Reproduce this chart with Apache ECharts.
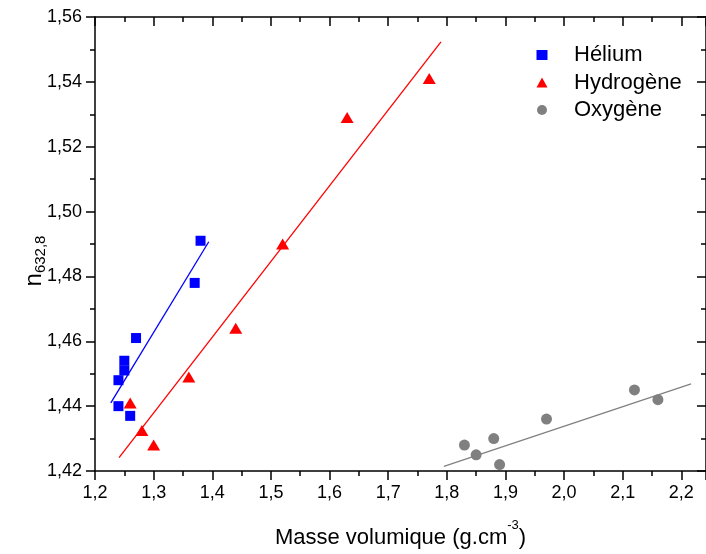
<!DOCTYPE html>
<html><head><meta charset="utf-8">
<script src="https://cdn.jsdelivr.net/npm/echarts@6/dist/echarts.min.js"></script>
<style>html,body{margin:0;padding:0;background:#fff}#c{width:706px;height:554px}</style>
</head><body><div id="c"></div>
<script>
// ---- data ----
const seriesNames = ['Hélium', 'Hydrogène', 'Oxygène'];
const heliumX = [1.24, 1.24, 1.25, 1.25, 1.26, 1.27, 1.37, 1.38];
const heliumY = [1.440, 1.448, 1.451, 1.454, 1.437, 1.461, 1.478, 1.491];
const hydrogenX = [1.26, 1.28, 1.30, 1.36, 1.44, 1.52, 1.63, 1.77];
const hydrogenY = [1.441, 1.4325, 1.428, 1.449, 1.464, 1.490, 1.529, 1.541];
const oxygenX = [1.83, 1.85, 1.88, 1.89, 1.97, 2.12, 2.16];
const oxygenY = [1.428, 1.425, 1.430, 1.422, 1.436, 1.445, 1.442];
// linear fit segments (end points)
const heliumFitX = [1.227, 1.394];
const heliumFitY = [1.441, 1.4907];
const hydrogenFitX = [1.241, 1.790];
const hydrogenFitY = [1.4241, 1.5523];
const oxygenFitX = [1.795, 2.2165];
const oxygenFitY = [1.4214, 1.4469];
// axes
const xMin = 1.2, xMax = 2.242, xStep = 0.1;
const yMin = 1.42, yMax = 1.56, yStep = 0.02;

const FONT = 'Arial, "Liberation Sans", sans-serif';
const zip = (a, b) => a.map((v, i) => [v, b[i]]);
const fmtX = v => v.toFixed(1).replace('.', ',');
const fmtY = v => v.toFixed(2).replace('.', ',');

const axisLineStyle = { color: '#000', width: 1.5 };

const chart = echarts.init(document.getElementById('c'), null, { renderer: 'canvas' });
chart.setOption({
  backgroundColor: '#fff',
  animation: false,
  grid: { left: 95, top: 17, right: -3, bottom: 78, containLabel: false },
  legend: {
    orient: 'vertical', left: 531.5, top: 39,
    itemWidth: 11, itemHeight: 10, itemGap: 5.5,
    data: [
      { name: seriesNames[0], icon: 'rect' },
      { name: seriesNames[1], icon: 'triangle' },
      { name: seriesNames[2], icon: 'circle' }
    ],
    textStyle: { fontFamily: FONT, fontSize: 22, color: '#000', lineHeight: 22, padding: [0, 0, 0, 21.5] }
  },
  xAxis: [{
    type: 'value', position: 'bottom', min: xMin, max: xMax, interval: xStep,
    name: '{a|Masse volumique (g.cm}{s|-3}{a|)}',
    nameLocation: 'middle', nameGap: 48, nameMoveOverlap: false,
    nameTextStyle: { rich: {
      a: { fontFamily: FONT, fontSize: 22, color: '#000', lineHeight: 30, verticalAlign: 'bottom', height: 23 },
      s: { fontFamily: FONT, fontSize: 13, color: '#000', lineHeight: 13, verticalAlign: 'top', height: 13 }
    } },
    axisLine: { show: true, onZero: false, lineStyle: axisLineStyle },
    axisTick: { show: true, inside: false, length: 9, lineStyle: axisLineStyle },
    minorTick: { show: true, splitNumber: 2, length: 5, lineStyle: axisLineStyle },
    axisLabel: { show: true, margin: 13, formatter: fmtX, showMaxLabel: false,
      fontFamily: FONT, fontSize: 18, color: '#000' },
    splitLine: { show: false }
  }, {
    type: 'value', position: 'top', min: xMin, max: xMax, interval: xStep,
    axisLine: { show: true, onZero: false, lineStyle: axisLineStyle },
    axisTick: { show: true, inside: true, length: 9, lineStyle: axisLineStyle },
    minorTick: { show: true, splitNumber: 2, length: 5, lineStyle: axisLineStyle },
    axisLabel: { show: false },
    splitLine: { show: false }
  }],
  yAxis: [{
    type: 'value', position: 'left', min: yMin, max: yMax, interval: yStep,
    name: '{n|n}{s|632,8}',
    nameLocation: 'middle', nameGap: 47, nameRotate: 90, nameMoveOverlap: false,
    nameTextStyle: { padding: [0, 34, 0, 0], rich: {
      n: { fontFamily: FONT, fontSize: 24, color: '#000', lineHeight: 28, verticalAlign: 'middle' },
      s: { fontFamily: FONT, fontSize: 15, color: '#000', lineHeight: 15, height: 15, verticalAlign: 'bottom' }
    } },
    axisLine: { show: true, onZero: false, lineStyle: axisLineStyle },
    axisTick: { show: true, inside: false, length: 9, lineStyle: axisLineStyle },
    minorTick: { show: true, splitNumber: 2, length: 5, lineStyle: axisLineStyle },
    axisLabel: { show: true, margin: 13, formatter: fmtY, fontFamily: FONT, fontSize: 18, color: '#000' },
    splitLine: { show: false }
  }, {
    type: 'value', position: 'right', min: yMin, max: yMax, interval: yStep,
    axisLine: { show: true, onZero: false, lineStyle: axisLineStyle },
    axisTick: { show: true, inside: true, length: 9, lineStyle: axisLineStyle },
    minorTick: { show: true, splitNumber: 2, length: 5, lineStyle: axisLineStyle },
    axisLabel: { show: false },
    splitLine: { show: false }
  }],
  series: [
    { name: 'fitHe', type: 'line', data: zip(heliumFitX, heliumFitY), showSymbol: false, silent: true,
      lineStyle: { color: '#0000ff', width: 1.3 }, itemStyle: { color: '#0000ff' }, z: 1 },
    { name: 'fitH', type: 'line', data: zip(hydrogenFitX, hydrogenFitY), showSymbol: false, silent: true,
      lineStyle: { color: '#ff0000', width: 1.3 }, itemStyle: { color: '#ff0000' }, z: 1 },
    { name: 'fitO', type: 'line', data: zip(oxygenFitX, oxygenFitY), showSymbol: false, silent: true,
      lineStyle: { color: '#808080', width: 1.3 }, itemStyle: { color: '#808080' }, z: 1 },
    { name: seriesNames[0], type: 'scatter', data: zip(heliumX, heliumY), symbol: 'rect', symbolSize: 10,
      itemStyle: { color: '#0000ff', opacity: 1 }, z: 3 },
    { name: seriesNames[1], type: 'scatter', data: zip(hydrogenX, hydrogenY), symbol: 'triangle', symbolSize: [13, 11],
      itemStyle: { color: '#ff0000', opacity: 1 }, z: 3 },
    { name: seriesNames[2], type: 'scatter', data: zip(oxygenX, oxygenY), symbol: 'circle', symbolSize: 11,
      itemStyle: { color: '#808080', opacity: 1 }, z: 3 }
  ]
});
</script>
</body></html>
